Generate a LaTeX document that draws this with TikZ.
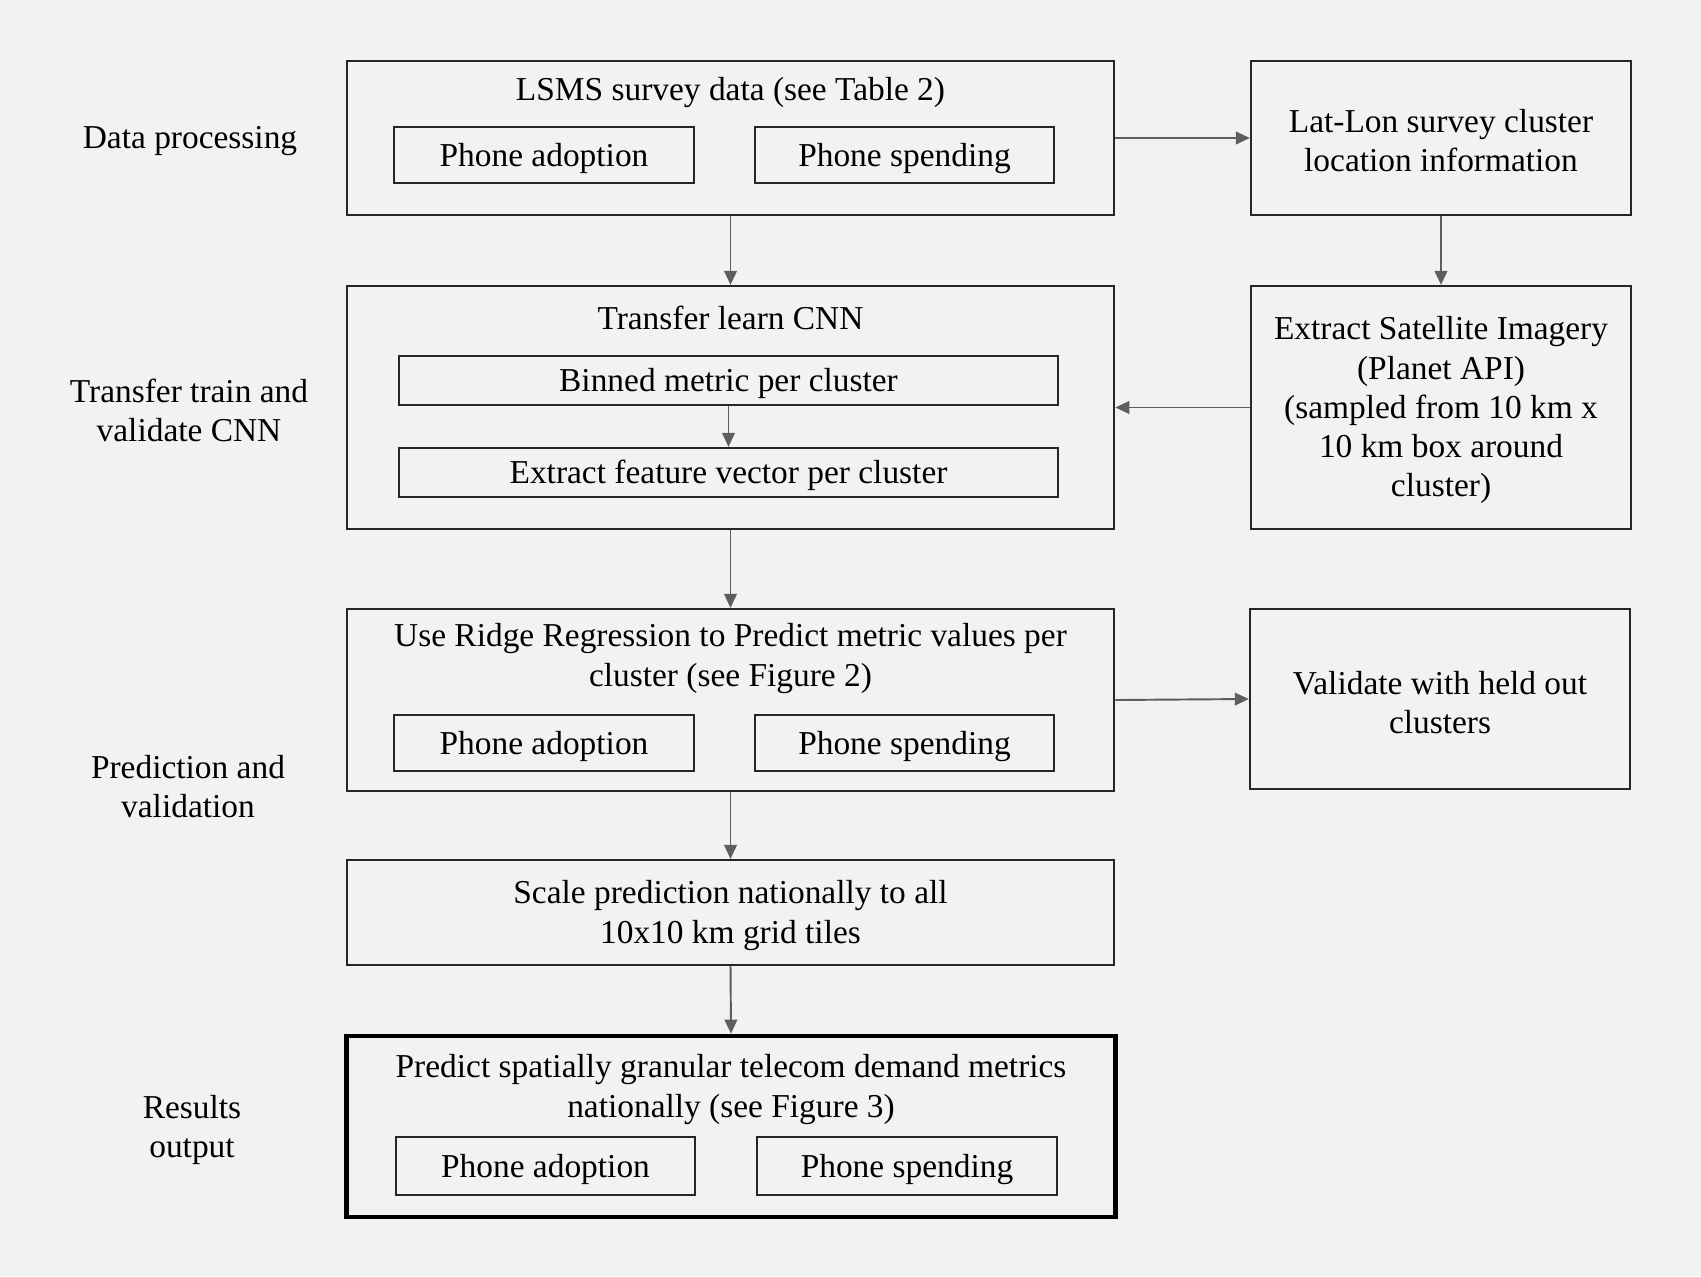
\documentclass[tikz,border=0pt]{standalone}
\usepackage{fontspec}
\setmainfont{Liberation Serif}
\usetikzlibrary{arrows.meta}

\definecolor{bg}{HTML}{F2F2F2}
\definecolor{arrowgray}{HTML}{5E5E5E}
\tikzset{
    outerbox/.style={draw=black!85, line width=0.6pt, rectangle, inner sep=0pt},
    innerbox/.style={draw=black!85, line width=0.6pt, rectangle, inner sep=0pt, text height=0.85em, text depth=0.22em},
    resultbox/.style={draw=black, line width=1.3pt, rectangle, inner sep=0pt},
    plain/.style={align=center, inner sep=0pt},
    arr/.style={draw=arrowgray, line width=0.55pt, -{Triangle[length=4pt,width=3.6pt]}}
}

\begin{document}
\begin{tikzpicture}[x=0.01cm, y=-0.01cm, font=\fontsize{9.5pt}{11.1pt}\selectfont]
    \fill[bg] (0,0) rectangle (1701,1276);
    \useasboundingbox (0,0) rectangle (1701,1276);

    % stage labels
    \node[plain] (lblData) at (190,141) {Data processing};
    \node[plain] (lblTrain) at (189,410) {Transfer train and\\validate CNN};
    \node[plain] (lblPred) at (188,787) {Prediction and\\validation};
    \node[plain] (lblOut) at (192,1130) {Results\\output};

    % main column
    \node[outerbox, minimum width=7.67cm, minimum height=1.54cm] (lsms) at (730.5,138) {};
    \node[plain] (lsmsTitle) at (730.5,93) {LSMS survey data (see Table 2)};
    \node[innerbox, minimum width=3.00cm, minimum height=0.56cm] (lsmsAdopt) at (544,155) {Phone adoption};
    \node[innerbox, minimum width=2.99cm, minimum height=0.56cm] (lsmsSpend) at (904.5,155) {Phone spending};

    \node[outerbox, minimum width=7.67cm, minimum height=2.43cm] (transfer) at (730.5,407.5) {};
    \node[plain] (transferTitle) at (730.5,318) {Transfer learn CNN};
    \node[innerbox, minimum width=6.59cm, minimum height=0.49cm] (binned) at (728.5,380.5) {Binned metric per cluster};
    \node[innerbox, minimum width=6.59cm, minimum height=0.49cm] (feature) at (728.5,472.5) {Extract feature vector per cluster};

    \node[outerbox, minimum width=7.67cm, minimum height=1.82cm] (ridge) at (730.5,700) {};
    \node[plain] (ridgeTitle) at (730.5,658.5) {Use Ridge Regression to Predict metric values per\\cluster (see Figure 2)};
    \node[innerbox, minimum width=3.00cm, minimum height=0.56cm] (ridgeAdopt) at (544,743) {Phone adoption};
    \node[innerbox, minimum width=2.99cm, minimum height=0.56cm] (ridgeSpend) at (904.5,743) {Phone spending};

    \node[outerbox, minimum width=7.67cm, minimum height=1.05cm] (scale) at (730.5,912.5) {};
    \node[plain] (scaleText) at (730.5,915.5) {Scale prediction nationally to all\\10x10 km grid tiles};

    \node[resultbox, minimum width=7.68cm, minimum height=1.81cm] (predict) at (731,1126.5) {};
    \node[plain] (predictTitle) at (731,1089.5) {Predict spatially granular telecom demand metrics\\nationally (see Figure 3)};
    \node[innerbox, minimum width=2.99cm, minimum height=0.58cm] (predAdopt) at (545.5,1166) {Phone adoption};
    \node[innerbox, minimum width=3.00cm, minimum height=0.58cm] (predSpend) at (907,1166) {Phone spending};

    % right column
    \node[outerbox, minimum width=3.80cm, minimum height=1.54cm] (latlon) at (1441,138) {};
    \node[plain] (latlonText) at (1441,140.5) {Lat-Lon survey cluster\\location information};
    \node[outerbox, minimum width=3.80cm, minimum height=2.43cm] (satellite) at (1441,407.5) {};
    \node[plain] (satelliteText) at (1441,410) {Extract Satellite Imagery\\(Planet API)\\(sampled from 10 km x\\10 km box around\\cluster)};
    \node[outerbox, minimum width=3.80cm, minimum height=1.80cm] (validate) at (1440,699) {};
    \node[plain] (validateText) at (1440,703) {Validate with held out\\clusters};

    % connectors
    \draw[arr] (lsms.east) -- (latlon.west);
    \draw[arr] (lsms.south) -- (transfer.north);
    \draw[arr] (latlon.south) -- (satellite.north);
    \draw[arr] (satellite.west) -- (transfer.east);
    \draw[arr] (binned.south) -- (feature.north);
    \draw[arr] (transfer.south) -- (ridge.north);
    \draw[arr] (ridge.east) -- (validate.west);
    \draw[arr] (ridge.south) -- (scale.north);
    \draw[arr] (scale.south) -- (predict.north);
\end{tikzpicture}
\end{document}
